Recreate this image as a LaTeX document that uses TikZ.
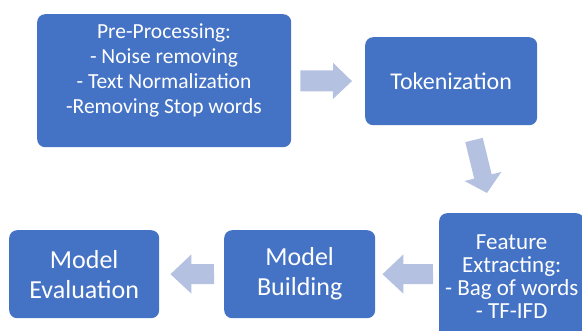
\documentclass[tikz,border=0pt]{standalone}
\usepackage{fontspec}
\setmainfont{Carlito}
\usetikzlibrary{arrows.meta,calc}
\definecolor{boxblue}{HTML}{4472C4}
\definecolor{arrowblue}{HTML}{B4C1E1}
\begin{document}
\begin{tikzpicture}[x=1pt,y=-1pt,
  blk/.style={rounded corners=8pt, fill=boxblue, text=white, align=center, inner sep=0pt, anchor=north west},
  arrtop/.style={draw=arrowblue, line width=21pt, line cap=butt, -{Triangle[length=19pt,width=35pt]}},
  arrdiag/.style={draw=arrowblue, line width=18pt, line cap=butt, -{Triangle[length=17pt,width=37pt]}},
  arrbot/.style={draw=arrowblue, line width=20pt, line cap=butt, -{Triangle[length=21pt,width=38pt]}}]
\useasboundingbox (0,0) rectangle (582,331);
\node[blk, minimum width=254pt, minimum height=133pt] (pre) at (37,14) {};
\node[text=white, align=center, inner sep=0pt, font=\fontsize{21.5}{25}\selectfont] (pretext) at (164,70)
  {Pre-Processing:\\- Noise removing\\- Text Normalization\\-Removing Stop words};
\node[blk, minimum width=172pt, minimum height=88pt, font=\fontsize{24}{29}\selectfont] (tok) at (365,37) {Tokenization};
\node[blk, minimum width=145pt, minimum height=127pt, font=\fontsize{23}{23}\selectfont] (feat) at (439,213)
  {Feature\\Extracting:\\- Bag of words\\- TF-IFD};
\node[blk, minimum width=151pt, minimum height=88pt, font=\fontsize{26}{30}\selectfont] (build) at (224,230) {Model\\Building};
\node[blk, minimum width=150pt, minimum height=88pt, font=\fontsize{26}{30}\selectfont] (eval) at (9,230) {Model\\Evaluation};
\draw[arrtop, shorten <=9pt, shorten >=13pt] (pre.east) -- (tok.west);
\coordinate (ds) at (474,140);
\coordinate (de) at (487,193);
\draw[arrdiag] (ds) -- (de);
\coordinate (b1s) at (433,274);
\draw[arrbot, shorten >=7pt] (b1s) -- (build.east);
\coordinate (b2s) at (214,274);
\draw[arrbot, shorten >=11pt] (b2s) -- (eval.east);
\end{tikzpicture}
\end{document}
